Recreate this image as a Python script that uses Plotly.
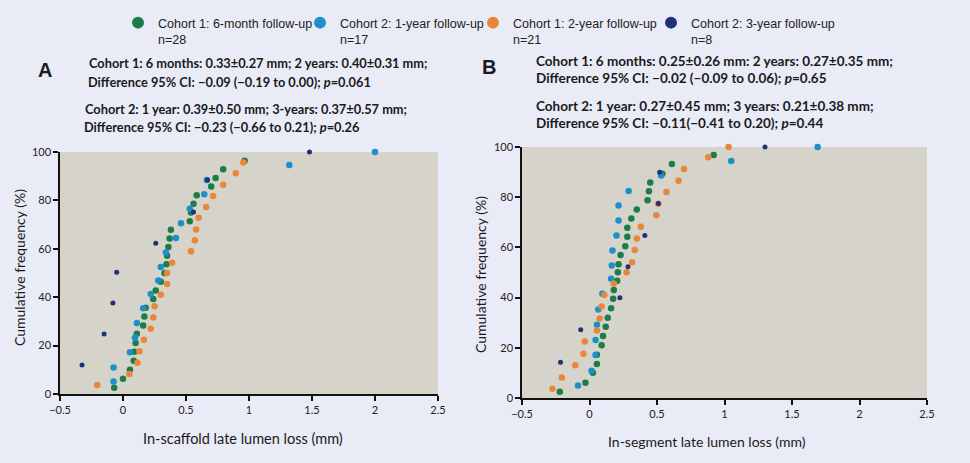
import plotly.graph_objects as go

W, H = 970, 463

# ---------------- data ----------------
series_names = [
    "Cohort 1: 6-month follow-up<br>n=28",
    "Cohort 2: 1-year follow-up<br>n=17",
    "Cohort 1: 2-year follow-up<br>n=21",
    "Cohort 2: 3-year follow-up<br>n=8",
]
series_colors = ["#1b7d48", "#1d8fc9", "#e8863c", "#1f3278"]

# Panel A: in-scaffold late lumen loss
a_c1_6m_x = [-0.07, 0.0, 0.055, 0.085, 0.09, 0.10, 0.11, 0.16, 0.17, 0.18, 0.24, 0.26, 0.30, 0.33,
             0.345, 0.35, 0.36, 0.37, 0.38, 0.53, 0.54, 0.56, 0.585, 0.70, 0.735, 0.795, 0.965]
a_c1_6m_y = [2.6, 6.3, 10.0, 13.7, 17.5, 21.1, 24.9, 28.3, 32.0, 35.6, 39.3, 42.8, 46.4, 50.0,
             53.6, 57.1, 60.7, 64.3, 67.9, 71.4, 75.0, 78.6, 82.1, 85.7, 89.3, 92.9, 96.4]
a_c2_1y_x = [-0.075, -0.075, 0.055, 0.095, 0.11, 0.16, 0.22, 0.28, 0.30, 0.34, 0.42, 0.46, 0.53, 0.645,
             0.665, 1.32, 2.0]
a_c2_1y_y = [5.2, 11.0, 17.3, 23.2, 29.3, 35.4, 41.3, 46.9, 52.5, 58.5, 64.5, 70.6, 76.6, 82.5,
             88.4, 94.6, 100.0]
a_c1_2y_x = [-0.205, 0.05, 0.115, 0.13, 0.165, 0.22, 0.24, 0.25, 0.30, 0.35, 0.35, 0.39, 0.54, 0.57,
             0.58, 0.60, 0.66, 0.715, 0.795, 0.895, 0.955]
a_c1_2y_y = [3.7, 8.3, 12.9, 17.7, 22.4, 27.0, 31.6, 36.3, 41.0, 45.5, 50.0, 54.2, 59.0, 63.5,
             68.0, 72.8, 77.3, 81.8, 86.5, 91.2, 95.7]
a_c2_3y_x = [-0.325, -0.15, -0.08, -0.05, 0.26, 0.56, 0.67, 1.48]
a_c2_3y_y = [12.0, 24.8, 37.6, 50.3, 62.3, 75.2, 88.4, 100.0]

# Panel B: in-segment late lumen loss
b_c1_6m_x = [-0.22, -0.03, 0.025, 0.055, 0.055, 0.09, 0.10, 0.12, 0.135, 0.16, 0.175, 0.18, 0.205, 0.21,
             0.215, 0.23, 0.265, 0.28, 0.28, 0.31, 0.35, 0.43, 0.44, 0.45, 0.54, 0.61, 0.92]
b_c1_6m_y = [2.5, 6.1, 10.1, 13.5, 17.2, 21.0, 24.7, 28.4, 32.0, 35.8, 39.5, 43.0, 46.7, 50.1,
             53.3, 57.0, 60.5, 64.2, 67.8, 71.5, 75.1, 78.8, 82.4, 85.9, 89.3, 93.2, 96.8]
b_c2_1y_x = [-0.085, 0.015, 0.045, 0.045, 0.055, 0.065, 0.095, 0.16, 0.165, 0.17, 0.20, 0.215, 0.215, 0.29,
             0.53, 1.05, 1.69]
b_c2_1y_y = [5.0, 10.9, 17.1, 23.1, 29.2, 35.3, 41.5, 47.5, 52.8, 58.8, 64.7, 70.7, 76.7, 82.5,
             88.6, 94.4, 100.0]
b_c1_2y_x = [-0.275, -0.205, -0.105, -0.045, -0.035, 0.055, 0.075, 0.09, 0.11, 0.18, 0.275, 0.315, 0.335, 0.35,
             0.38, 0.495, 0.51, 0.57, 0.66, 0.70, 0.88, 1.03]
b_c1_2y_y = [3.7, 8.2, 13.0, 17.6, 22.5, 26.9, 31.7, 36.5, 41.0, 45.6, 50.1, 54.1, 59.0, 63.5,
             68.2, 72.8, 77.4, 82.1, 86.6, 91.2, 95.9, 100.0]
b_c2_3y_x = [-0.215, -0.065, 0.225, 0.285, 0.41, 0.51, 0.52, 1.30]
b_c2_3y_y = [14.2, 27.2, 39.9, 52.3, 64.7, 77.5, 89.9, 100.0]

x_tick_vals = [-0.5, 0, 0.5, 1, 1.5, 2, 2.5]
x_tick_text = ["\u22120.5", "0", "0.5", "1", "1.5", "2", "2.5"]
y_tick_vals = [0, 20, 40, 60, 80, 100]
y_tick_text = ["0", "20", "40", "60", "80", "100"]

panel_a_series = [(a_c1_6m_x, a_c1_6m_y), (a_c2_1y_x, a_c2_1y_y), (a_c1_2y_x, a_c1_2y_y), (a_c2_3y_x, a_c2_3y_y)]
panel_b_series = [(b_c1_6m_x, b_c1_6m_y), (b_c2_1y_x, b_c2_1y_y), (b_c1_2y_x, b_c1_2y_y), (b_c2_3y_x, b_c2_3y_y)]

# ---------------- styling ----------------
COND = "Lato, Roboto, sans-serif"
SANS = "Liberation Sans, Arial, sans-serif"
marker_sizes = [6.5, 6.5, 6.5, 5]
legend_ids = ["legend", "legend2", "legend3", "legend4"]
legend_left_px = [118, 300, 473, 651]


def px_x(p):
    return p / W


def px_y(p):
    return 1 - p / H


fig = go.Figure()
for k, (xs, ys) in enumerate(panel_a_series):
    fig.add_trace(go.Scatter(
        x=xs, y=ys, mode="markers", name=series_names[k], legendgroup=str(k), legend=legend_ids[k],
        marker=dict(color=series_colors[k], size=marker_sizes[k]),
        xaxis="x", yaxis="y", cliponaxis=False, showlegend=True))
for k, (xs, ys) in enumerate(panel_b_series):
    fig.add_trace(go.Scatter(
        x=xs, y=ys, mode="markers", name=series_names[k], legendgroup=str(k), legend=legend_ids[k],
        marker=dict(color=series_colors[k], size=marker_sizes[k]),
        xaxis="x2", yaxis="y2", cliponaxis=False, showlegend=False))

axis_common = dict(showgrid=False, zeroline=False, showline=True, linecolor="#111", linewidth=1.5,
                   ticks="outside", ticklen=5, tickwidth=1.5, tickcolor="#111", automargin=False,
                   tickfont=dict(family=COND, size=11, color="#222"))

fig.update_layout(
    width=W, height=H,
    margin=dict(l=0, r=0, t=0, b=0, autoexpand=False),
    paper_bgcolor="#e9ebf6",
    plot_bgcolor="#d6d4ca",
    xaxis=dict(domain=[px_x(60), px_x(438)], range=[-0.5, 2.5], anchor="y",
               tickvals=x_tick_vals, ticktext=x_tick_text, **axis_common),
    yaxis=dict(domain=[px_y(394), px_y(152)], range=[0, 100], anchor="x",
               tickvals=y_tick_vals, ticktext=y_tick_text, **axis_common),
    xaxis2=dict(domain=[px_x(522), px_x(927)], range=[-0.5, 2.5], anchor="y2",
                tickvals=x_tick_vals, ticktext=x_tick_text, **axis_common),
    yaxis2=dict(domain=[px_y(398), px_y(147)], range=[0, 100], anchor="x2",
                tickvals=y_tick_vals, ticktext=y_tick_text, **axis_common),
    showlegend=True,
)

for lid, lx in zip(legend_ids, legend_left_px):
    fig.update_layout({lid: dict(orientation="h", x=px_x(lx), y=px_y(8), xanchor="left", yanchor="top",
                                 font=dict(family=SANS, size=12.5, color="#222"),
                                 bgcolor="rgba(0,0,0,0)", valign="top", itemsizing="constant")})

ann = []
def text(x, y, s, size, bold=False, xanchor="left", angle=0, family=COND):
    ann.append(dict(x=px_x(x), y=px_y(y), xref="paper", yref="paper", text=s, showarrow=False,
                    xanchor=xanchor, yanchor="middle", textangle=angle,
                    font=dict(family=family, size=size, color="#1a1a1a",
                              weight="bold" if bold else "normal")))

text(45, 70, "A", 20, bold=True, xanchor="center", family=SANS)
text(489, 67, "B", 20, bold=True, xanchor="center", family=SANS)

text(87, 63, "Cohort 1: 6 months: 0.33\u00b10.27 mm; 2 years: 0.40\u00b10.31 mm;", 12.8, bold=True)
text(86, 82, "Difference 95% CI: \u22120.09 (\u22120.19 to 0.00); <i>p</i>=0.061", 12.8, bold=True)
text(83, 109, "Cohort 2: 1 year: 0.39\u00b10.50 mm; 3-years: 0.37\u00b10.57 mm;", 12.8, bold=True)
text(82, 127, "Difference 95% CI: \u22120.23 (\u22120.66 to 0.21); <i>p</i>=0.26", 12.8, bold=True)

text(534, 61, "Cohort 1: 6 months: 0.25\u00b10.26 mm: 2 years: 0.27\u00b10.35 mm;", 13.5, bold=True)
text(534, 78, "Difference 95% CI: \u22120.02 (\u22120.09 to 0.06); <i>p</i>=0.65", 13.5, bold=True)
text(534, 106, "Cohort 2: 1 year: 0.27\u00b10.45 mm; 3 years: 0.21\u00b10.38 mm;", 13.5, bold=True)
text(534, 123, "Difference 95% CI: \u22120.11(\u22120.41 to 0.20); <i>p</i>=0.44", 13.5, bold=True)

text(243, 438, "In-scaffold late lumen loss (mm)", 14.5, xanchor="center")
text(707, 441, "In-segment late lumen loss (mm)", 14, xanchor="center")
text(19, 268, "Cumulative frequency (%)", 14, xanchor="center", angle=-90)
text(480, 275, "Cumulative frequency (%)", 14, xanchor="center", angle=-90)

fig.update_layout(annotations=ann)
fig.write_html("out.html", config={"displayModeBar": False},
               post_script="document.body.style.margin='0';")
